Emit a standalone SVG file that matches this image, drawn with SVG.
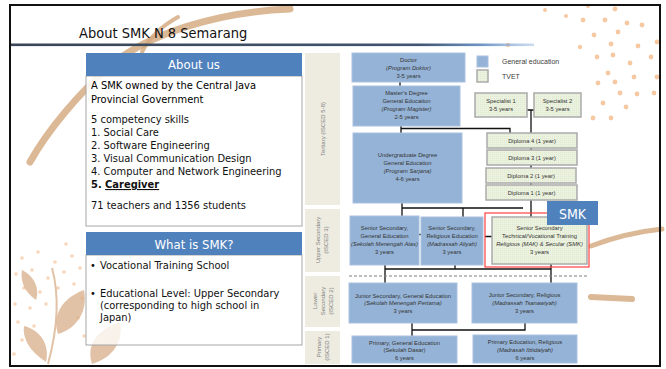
<svg xmlns="http://www.w3.org/2000/svg" width="666" height="369" viewBox="0 0 666 369">
  <defs>
    <style>
      .lt { font-family: "DejaVu Sans Condensed", "DejaVu Sans", sans-serif; font-stretch: condensed; font-size: 11px; fill: #111; }
      .hd { font-family: "DejaVu Sans Condensed", "DejaVu Sans", sans-serif; font-stretch: condensed; font-size: 13px; fill: #fff; text-anchor: middle; }
      .title { font-family: "DejaVu Sans Condensed", "DejaVu Sans", sans-serif; font-stretch: condensed; font-size: 14.5px; fill: #111; }
      .gen { fill: #95b3d7; stroke: #a9c1de; stroke-width: 1; }
      .tvet { fill: url(#tvetFill); stroke: #aaaaaa; stroke-width: 1.5; }
      .lvl { fill: #eeece1; }
      .bx { font-family: "Liberation Sans", Arial, sans-serif; font-size: 5.8px; fill: #333; text-anchor: middle; }
      .it { font-style: italic; }
      .lv { font-family: "Liberation Sans", Arial, sans-serif; font-size: 6px; fill: #7f7f7f; text-anchor: middle; }
      .lg { font-family: "Liberation Sans", Arial, sans-serif; font-size: 7px; fill: #404040; }
      .con { fill: none; stroke: #111; stroke-width: 1.3; }
      .brush { fill: none; stroke: #d3a77c; stroke-linecap: round; opacity: 0.8; }
      .dot { fill: #f6c9a2; }
      .leaf { fill: #d8ae88; opacity: 0.75; }
    </style>
    <pattern id="tvetFill" width="2" height="2" patternUnits="userSpaceOnUse">
      <rect width="2" height="2" fill="#ecf2e0"/>
      <rect width="1" height="1" fill="#e0e9cf"/>
    </pattern>
    <linearGradient id="rule" x1="0" y1="0" x2="1" y2="0">
      <stop offset="0" stop-color="#3a4556"/>
      <stop offset="0.78" stop-color="#3f5470"/>
      <stop offset="0.9" stop-color="#6f95c6"/>
      <stop offset="1" stop-color="#a9c4e6" stop-opacity="0.6"/>
    </linearGradient>
  </defs>

  <rect width="666" height="369" fill="#fff"/>

  <!-- background ornaments: brush strokes, dots, leaves -->
  <g id="ornaments">
    <path class="brush" stroke-width="7" d="M290 9 C 215 12, 150 34, 112 64 C 78 94, 48 130, 30 162"/>
    <path class="brush" stroke-width="4" d="M178 17 C 162 26, 150 36, 142 52"/>
    <path class="brush" stroke-width="5" d="M591 246 Q 625 233 662 229"/>
    <path class="brush" stroke-width="6" d="M591 297 L 632 299"/>
    <g class="dot">
      <circle cx="615" cy="9" r="2.4"/><circle cx="583" cy="20" r="2.4"/><circle cx="605" cy="20" r="2.4"/>
      <circle cx="627" cy="23" r="2.4"/><circle cx="642" cy="25" r="2.4"/><circle cx="594" cy="35" r="2.4"/>
      <circle cx="618" cy="32" r="2.4"/><circle cx="611" cy="44" r="2.4"/><circle cx="638" cy="46" r="2.4"/>
      <circle cx="657" cy="42" r="2.4"/><circle cx="597" cy="57" r="2.4"/><circle cx="613" cy="55" r="2.4"/>
      <circle cx="630" cy="63" r="2.4"/><circle cx="651" cy="57" r="2.4"/><circle cx="608" cy="73" r="2.4"/>
      <circle cx="634" cy="77" r="2.4"/><circle cx="598" cy="83" r="2.4"/><circle cx="615" cy="82" r="2.4"/>
      <circle cx="657" cy="77" r="2.4"/><circle cx="620" cy="93" r="2.4"/><circle cx="637" cy="94" r="2.4"/>
      <circle cx="654" cy="93" r="2.4"/><circle cx="603" cy="103" r="2.4"/><circle cx="626" cy="107" r="2.4"/>
      <circle cx="593" cy="118" r="2.4"/><circle cx="611" cy="118" r="2.4"/><circle cx="580" cy="47" r="2.2"/>
      <circle cx="508" cy="45" r="2.2"/><circle cx="545" cy="10" r="2"/><circle cx="566" cy="16" r="2"/>
      <circle cx="588" cy="6" r="2"/>
    </g>
    <g class="dot" opacity="0.75">
      <circle cx="22" cy="258" r="1.8"/><circle cx="38" cy="252" r="1.8"/><circle cx="55" cy="262" r="1.8"/>
      <circle cx="72" cy="256" r="1.8"/><circle cx="16" cy="274" r="1.8"/><circle cx="32" cy="270" r="1.8"/>
      <circle cx="48" cy="278" r="1.8"/><circle cx="64" cy="272" r="1.8"/><circle cx="80" cy="268" r="1.8"/>
      <circle cx="24" cy="288" r="1.8"/><circle cx="40" cy="292" r="1.8"/><circle cx="58" cy="288" r="1.8"/>
      <circle cx="74" cy="284" r="1.8"/><circle cx="15" cy="304" r="1.8"/><circle cx="30" cy="308" r="1.8"/>
      <circle cx="46" cy="304" r="1.8"/><circle cx="82" cy="298" r="1.8"/><circle cx="18" cy="322" r="1.8"/>
      <circle cx="34" cy="326" r="1.8"/><circle cx="78" cy="318" r="1.8"/><circle cx="22" cy="340" r="1.8"/>
      <circle cx="14" cy="354" r="1.8"/><circle cx="84" cy="336" r="1.8"/><circle cx="66" cy="244" r="1.8"/>
    </g>
    <g>
      <path d="M52 268 C 58 290, 60 320, 48 364" fill="none" stroke="#d8ae88" stroke-width="2" opacity="0.75"/>
      <path class="leaf" d="M58 334 C 52 315, 62 298, 84 290 C 88 310, 78 328, 58 334 Z"/>
      <path class="leaf" d="M46 362 C 30 352, 22 338, 24 326 C 40 330, 50 344, 46 362 Z"/>
      <path class="leaf" d="M92 364 C 86 346, 96 330, 120 322 C 124 342, 112 358, 92 364 Z"/>
      <path class="leaf" d="M36 300 C 24 292, 20 280, 22 270 C 34 276, 40 288, 36 300 Z"/>
    </g>
  </g>

  <!-- heading -->
  <text class="title" x="79" y="38">About SMK N 8 Semarang</text>
  <rect x="10" y="43.5" width="524" height="2.6" fill="url(#rule)"/>

  <!-- left panel: About us -->
  <g id="about-us">
    <rect x="86" y="76" width="216" height="150" fill="#fff" fill-opacity="0.88" stroke="#a6a6a6" stroke-width="1"/>
    <rect x="86" y="53" width="216" height="23" fill="#4f81bd"/>
    <text class="hd" x="194" y="69">About us</text>
    <text class="lt" x="91" y="89" style="fill:#000">A SMK owned by the Central Java</text>
    <text class="lt" x="91" y="103" style="fill:#000">Provincial Government</text>
    <text class="lt" x="91" y="123">5 competency skills</text>
    <text class="lt" x="91" y="136">1. Social Care</text>
    <text class="lt" x="91" y="149">2. Software Engineering</text>
    <text class="lt" x="91" y="162">3. Visual Communication Design</text>
    <text class="lt" x="91" y="175">4. Computer and Network Engineering</text>
    <text class="lt" x="91" y="188" font-weight="bold">5. <tspan text-decoration="underline">Caregiver</tspan></text>
    <text class="lt" x="91" y="209">71 teachers and 1356 students</text>
  </g>

  <!-- left panel: What is SMK? -->
  <g id="what-is-smk">
    <rect x="86" y="255" width="216" height="90" fill="#fff" fill-opacity="0.78" stroke="#a6a6a6" stroke-width="1"/>
    <rect x="86" y="232" width="216" height="23" fill="#4f81bd"/>
    <text class="hd" x="194" y="249">What is SMK?</text>
    <text class="lt" x="90" y="269">•</text>
    <text class="lt" x="100" y="269">Vocational Training School</text>
    <text class="lt" x="90" y="297">•</text>
    <text class="lt" x="100" y="297">Educational Level: Upper Secondary</text>
    <text class="lt" x="100" y="309">(corresponding to high school in</text>
    <text class="lt" x="100" y="321">Japan)</text>
  </g>

  <!-- education levels -->
  <g id="levels">
    <rect class="lvl" x="305" y="53" width="35" height="152"/>
    <rect class="lvl" x="305" y="209" width="35" height="63"/>
    <rect class="lvl" x="305" y="276" width="35" height="51"/>
    <rect class="lvl" x="305" y="331" width="35" height="33"/>
    <text class="lv" transform="translate(324.5 129) rotate(-90)">Tertiary (ISCED 5-8)</text>
    <text class="lv" transform="translate(320 240) rotate(-90)"><tspan x="0" y="0">Upper Secondary</tspan><tspan x="0" y="8">(ISCED 3)</tspan></text>
    <text class="lv" transform="translate(317 301) rotate(-90)"><tspan x="0" y="0">Lower</tspan><tspan x="0" y="8">Secondary</tspan><tspan x="0" y="16">(ISCED 2)</tspan></text>
    <text class="lv" transform="translate(321 347) rotate(-90)"><tspan x="0" y="0">Primary</tspan><tspan x="0" y="8">(ISCED 1)</tspan></text>
  </g>

  <!-- legend -->
  <g id="legend">
    <rect class="gen" x="477" y="56" width="11" height="11"/>
    <text class="lg" x="502" y="64">General education</text>
    <rect class="tvet" x="477" y="70" width="11" height="12"/>
    <text class="lg" x="502" y="79">TVET</text>
  </g>

  <!-- connectors -->
  <g id="connectors">
    <path class="con" d="M400 82 V86"/>
    <path class="con" d="M401 126 V133 M401 128.5 H510 V133"/>
    <path class="con" d="M527 110 H534 M531 110 V133"/>
    <path class="con" d="M531 148 V150 M531 165 V168 M531 183 V185 M531 200 V217"/>
    <path class="con" d="M402 203 V216 M402 208 H523 M463 208 V217"/>
    <path class="con" d="M419 234.5 H421 M485 236.5 H492"/>
    <path class="con" d="M385 264 V283 M385 269 H551 M455 265 V269 M551 264 V283"/>
    <path class="con" d="M412 323 V336 M412 330 H525 V323"/>
    <path d="M349 276 H588" fill="none" stroke="#7f7f7f" stroke-width="1" stroke-dasharray="3 2"/>
  </g>

  <!-- tertiary -->
  <g id="doctor">
    <rect class="gen" x="352" y="53" width="113" height="29"/>
    <text class="bx" x="408.5" y="62">Doctor</text>
    <text class="bx it" x="408.5" y="70">(Program Doktor)</text>
    <text class="bx" x="408.5" y="78">3-5 years</text>
  </g>
  <g id="masters">
    <rect class="gen" x="353" y="86" width="107" height="40"/>
    <text class="bx" x="406.5" y="95">Master’s Degree</text>
    <text class="bx" x="406.5" y="103">General Education</text>
    <text class="bx it" x="406.5" y="111">(Program Magister)</text>
    <text class="bx" x="406.5" y="119">2-5 years</text>
  </g>
  <g id="undergraduate">
    <rect class="gen" x="353" y="133" width="109" height="70"/>
    <text class="bx" x="407.5" y="157">Undergraduate Degree</text>
    <text class="bx" x="407.5" y="165">General Education</text>
    <text class="bx it" x="407.5" y="173">(Program Sarjana)</text>
    <text class="bx" x="407.5" y="181">4-6 years</text>
  </g>
  <g id="specialist-1">
    <rect class="tvet" x="475" y="93" width="52" height="24"/>
    <text class="bx" x="501" y="103">Specialist 1</text>
    <text class="bx" x="501" y="110.5">3-5 years</text>
  </g>
  <g id="specialist-2">
    <rect class="tvet" x="534" y="93" width="47" height="24"/>
    <text class="bx" x="557.5" y="103">Specialist 2</text>
    <text class="bx" x="557.5" y="110.5">3-5 years</text>
  </g>
  <g id="diploma-4">
    <rect class="tvet" x="487" y="133" width="90" height="15"/>
    <text class="bx" x="532" y="142.5">Diploma 4 (1 year)</text>
  </g>
  <g id="diploma-3">
    <rect class="tvet" x="487" y="150" width="90" height="15"/>
    <text class="bx" x="532" y="159.5">Diploma 3 (1 year)</text>
  </g>
  <g id="diploma-2">
    <rect class="tvet" x="486" y="168" width="90" height="15"/>
    <text class="bx" x="531" y="177.5">Diploma 2 (1 year)</text>
  </g>
  <g id="diploma-1">
    <rect class="tvet" x="486" y="185" width="91" height="15"/>
    <text class="bx" x="531.5" y="194.5">Diploma 1 (1 year)</text>
  </g>

  <!-- upper secondary -->
  <g id="senior-general">
    <rect class="gen" x="350" y="216" width="69" height="49"/>
    <text class="bx" x="384.5" y="230">Senior Secondary,</text>
    <text class="bx" x="384.5" y="238">General Education</text>
    <text class="bx it" x="384.5" y="246">(Sekolah Menengah Atas)</text>
    <text class="bx" x="384.5" y="254">3 years</text>
  </g>
  <g id="senior-religious">
    <rect class="gen" x="421" y="217" width="62" height="48"/>
    <text class="bx" x="452" y="230">Senior Secondary,</text>
    <text class="bx" x="452" y="238">Religious Education</text>
    <text class="bx it" x="452" y="246">(Madrassah Aliyah)</text>
    <text class="bx" x="452" y="254">3 years</text>
  </g>
  <g id="senior-tvet">
    <rect class="tvet" x="492" y="217" width="95" height="47"/>
    <text class="bx" x="539.5" y="230">Senior Secondary</text>
    <text class="bx" x="539.5" y="238">Technical/Vocational Training</text>
    <text class="bx it" x="539.5" y="246">Religious (MAK) &amp; Secular (SMK)</text>
    <text class="bx" x="539.5" y="254">3 years</text>
  </g>
  <g id="smk-highlight">
    <rect x="485" y="213" width="104" height="54" fill="none" stroke="#ff4040" stroke-width="1.2"/>
    <rect x="547" y="201" width="51" height="24" fill="#4f81bd"/>
    <text x="572.5" y="219" font-family="DejaVu Sans Condensed, DejaVu Sans, sans-serif" font-stretch="condensed" font-size="14" fill="#fff" text-anchor="middle">SMK</text>
  </g>

  <!-- lower secondary -->
  <g id="junior-general">
    <rect class="gen" x="349" y="283" width="108" height="40"/>
    <text class="bx" x="403" y="297.5">Junior Secondary, General Education</text>
    <text class="bx it" x="403" y="305">(Sekolah Menengah Pertama)</text>
    <text class="bx" x="403" y="313">3 years</text>
  </g>
  <g id="junior-religious">
    <rect class="gen" x="472" y="283" width="105" height="40"/>
    <text class="bx" x="524.5" y="297">Junior Secondary, Religious</text>
    <text class="bx it" x="524.5" y="305">(Madrassah Tsanawiyah)</text>
    <text class="bx" x="524.5" y="313">3 years</text>
  </g>

  <!-- primary -->
  <g id="primary-general">
    <rect class="gen" x="352" y="336" width="105" height="27"/>
    <text class="bx" x="404.5" y="344.5">Primary, General Education</text>
    <text class="bx" x="404.5" y="352">(Sekolah Dasar)</text>
    <text class="bx" x="404.5" y="360">6 years</text>
  </g>
  <g id="primary-religious">
    <rect class="gen" x="473" y="335" width="104" height="28"/>
    <text class="bx" x="525" y="344">Primary Education, Religious</text>
    <text class="bx it" x="525" y="352">(Madrasah Ibtidaiyah)</text>
    <text class="bx" x="525" y="360">6 years</text>
  </g>

  <!-- slide frame -->
  <rect x="10" y="5" width="650" height="361" fill="none" stroke="#111" stroke-width="2"/>
</svg>
